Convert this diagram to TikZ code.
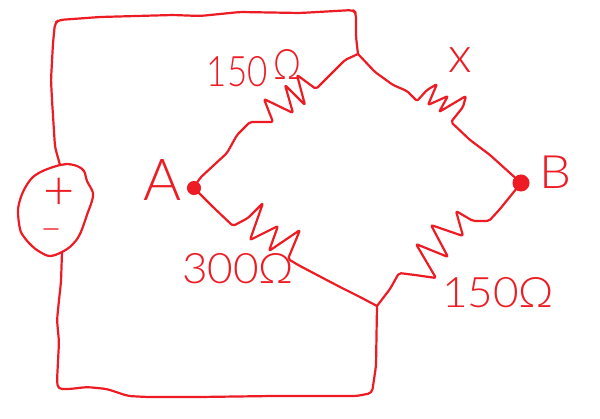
\documentclass[tikz,border=0pt]{standalone}
\usepackage{fontspec}
\setmainfont{Lato Light}
\definecolor{pen}{HTML}{ED1C24}
\tikzset{
  wire/.style={draw=pen,line width=2.2pt,line join=round,line cap=round,rounded corners=2pt},
  dotnode/.style={circle,fill=pen,draw=pen,line width=1pt,minimum size=11pt,inner sep=0pt},
  hand/.style={text=pen,inner sep=0pt,font=\fontsize{#1}{#1}\selectfont},
  hand/.default=40
}
\begin{document}
\begin{tikzpicture}[x=1pt,y=-1pt]
\useasboundingbox[fill=white] (0,0) rectangle (600,419);
% terminals and junctions
\node[dotnode,minimum size=13pt] (A) at (194,188) {};
\node[dotnode,minimum size=16pt] (B) at (521,183) {};
\coordinate (T) at (358,54);
\coordinate (L) at (377,306);
\coordinate (Stop) at (60,165);
\coordinate (Sbot) at (62,252);
% source
\draw[wire,rounded corners=0pt] plot[smooth cycle,tension=.6] coordinates {(Stop) (67,164) (77,166) (84,171) (87,181) (93,193) (91,204) (88,212) (80,234) (72,245) (Sbot) (50,256) (40,252) (32,246) (24,237) (20,229) (18,212) (20,200) (25,188) (33,177) (45,170)};
\node[hand=54] (plus) at (59,194) {+};
\node[hand=38,anchor=center] (minus) at (52,235) {–};
% outer wires
\draw[wire,rounded corners=4pt] (Stop) -- (55,147) -- (52,100) -- (51,80) -- (53,43) -- (55,23) -- (59,20) -- (100,17) -- (173,15) -- (200,16) -- (240,12) -- (300,13) -- (353,10) -- (356,13) -- (356,37) -- (T);
\draw[wire,rounded corners=4pt] (Sbot) -- (61,282) -- (59,300) -- (57,320) -- (59,342) -- (57,381) -- (58,389) -- (70,389) -- (87,387) -- (107,389) -- (128,396) -- (147,397) -- (200,397) -- (273,396) -- (357,396) -- (372,393) -- (376,366) -- (L);
% 150 ohm, upper left
\draw[wire] (A) -- (200,178) -- (227,153) -- (237,135) -- (250,122) -- (273,122) -- (264,99) -- (293,113) -- (285,85) -- (305,105) -- (297,75) -- (316,89) -- (345,60) -- (T);
% x, upper right
\draw[wire] (T) -- (375,72) -- (393,85) -- (407,91) -- (417,101) -- (427,90) -- (437,84) -- (428,105) -- (448,96) -- (439,112) -- (466,96) -- (463,107) -- (451,122) -- (470,140) -- (490,155) -- (B);
% 300 ohm, lower left
\draw[wire] (A) -- (213,207) -- (233,226) -- (248,218) -- (263,203) -- (250,240) -- (278,226) -- (269,251) -- (300,230) -- (288,259) -- (300,266) -- (340,287) -- (360,297) -- (L);
% 150 ohm, lower right
\draw[wire] (B) -- (500,209) -- (489,221) -- (473,221) -- (456,211) -- (463,236) -- (431,225) -- (448,257) -- (416,244) -- (436,278) -- (415,275) -- (399,273) -- (390,289) -- (L);
% labels
\node[hand=58] (la) at (163,180) {A};
\node[hand=46,xscale=1.1] (lb) at (555,172) {B};
\node[hand=50] (lx) at (460,60) {x};
\node[hand=42,xscale=.83] (r1) at (254,68) {150\,\raisebox{7pt}{Ω}};
\node[hand=42,xscale=1.05] (r2) at (238,269) {300Ω};
\node[hand=42,xscale=1.05] (r3) at (498,293) {150Ω};
\end{tikzpicture}
\end{document}
